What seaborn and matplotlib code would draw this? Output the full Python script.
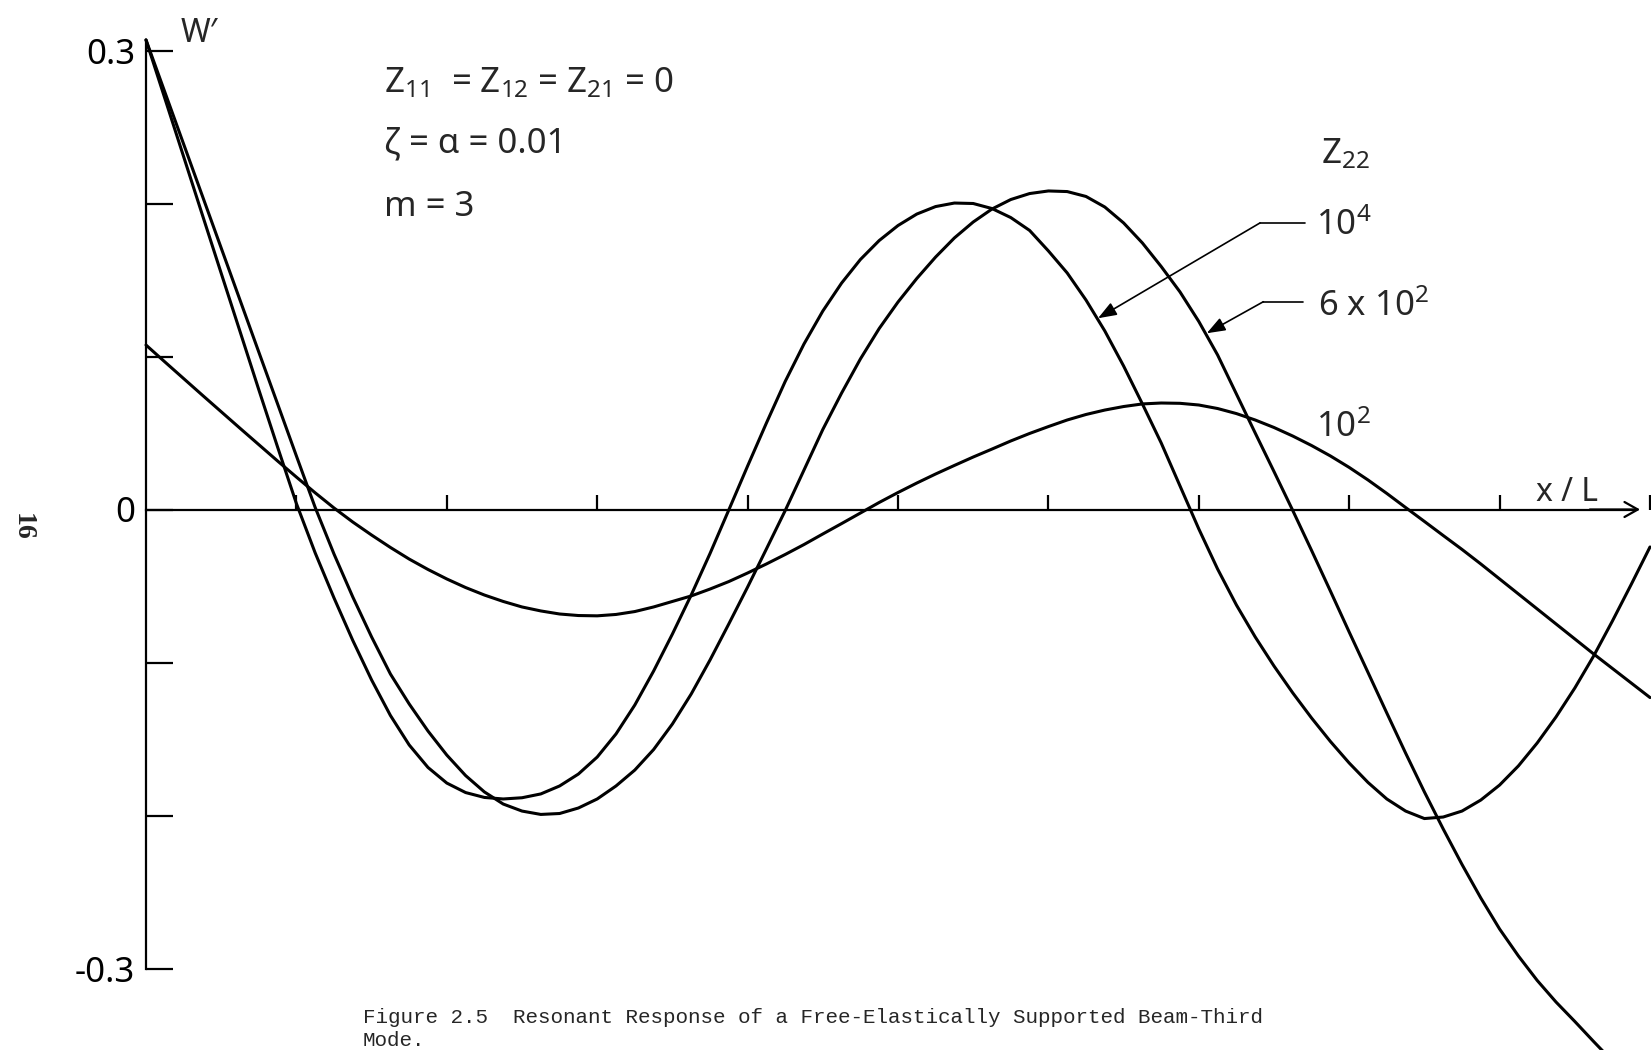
import matplotlib
matplotlib.use("Agg")
import matplotlib.pyplot as plt
import pandas as pd
import seaborn as sns

# Nondimensional position along the beam
x_over_L = [0.0, 0.0125, 0.025, 0.0375, 0.05, 0.0625, 0.075, 0.0875, 0.1, 0.1125,
            0.125, 0.1375, 0.15, 0.1625, 0.175, 0.1875, 0.2, 0.2125, 0.225, 0.2375,
            0.25, 0.2625, 0.275, 0.2875, 0.3, 0.3125, 0.325, 0.3375, 0.35, 0.3625,
            0.375, 0.3875, 0.4, 0.4125, 0.425, 0.4375, 0.45, 0.4625, 0.475, 0.4875,
            0.5, 0.5125, 0.525, 0.5375, 0.55, 0.5625, 0.575, 0.5875, 0.6, 0.6125,
            0.625, 0.6375, 0.65, 0.6625, 0.675, 0.6875, 0.7, 0.7125, 0.725, 0.7375,
            0.75, 0.7625, 0.775, 0.7875, 0.8, 0.8125, 0.825, 0.8375, 0.85, 0.8625,
            0.875, 0.8875, 0.9, 0.9125, 0.925, 0.9375, 0.95, 0.9625, 0.975, 0.9875,
            1.0]

# Resonant slope response W' for each support stiffness Z22
w_z22_1e4 = [0.3069, 0.2688, 0.2307, 0.1925, 0.1544, 0.1164, 0.0783, 0.0408, 0.0039,
             -0.0284, -0.0578, -0.0856, -0.1114, -0.1346, -0.1539, -0.1686, -0.1788,
             -0.1850, -0.1882, -0.1892, -0.1884, -0.1859, -0.1807, -0.1729, -0.1618,
             -0.1467, -0.1278, -0.1056, -0.0814, -0.0559, -0.0288, -0.0003, 0.0284,
             0.0565, 0.0837, 0.1082, 0.1297, 0.1480, 0.1634, 0.1758, 0.1856, 0.1931,
             0.1980, 0.2003, 0.2000, 0.1967, 0.1908, 0.1824, 0.1690, 0.1546, 0.1369,
             0.1167, 0.0938, 0.0690, 0.0435, 0.0154, -0.0127, -0.0389, -0.0624,
             -0.0833, -0.1023, -0.1199, -0.1363, -0.1516, -0.1657, -0.1784, -0.1892,
             -0.1971, -0.2020, -0.2010, -0.1971, -0.1899, -0.1801, -0.1676, -0.1526,
             -0.1356, -0.1167, -0.0958, -0.0729, -0.0490, -0.0245]
w_z22_6e2 = [0.3069, 0.2729, 0.2389, 0.2049, 0.1709, 0.1369, 0.1029, 0.0690, 0.0350,
             0.0013, -0.0291, -0.0572, -0.0833, -0.1075, -0.1271, -0.1448, -0.1605,
             -0.1739, -0.1846, -0.1925, -0.1971, -0.1993, -0.1987, -0.1951, -0.1892,
             -0.1807, -0.1703, -0.1569, -0.1402, -0.1206, -0.0984, -0.0748, -0.0507,
             -0.0258, -0.0007, 0.0258, 0.0523, 0.0761, 0.0984, 0.1183, 0.1356, 0.1510,
             0.1650, 0.1775, 0.1879, 0.1964, 0.2026, 0.2065, 0.2082, 0.2078, 0.2046,
             0.1977, 0.1873, 0.1742, 0.1588, 0.1422, 0.1229, 0.1010, 0.0755, 0.0500,
             0.0248, -0.0007, -0.0268, -0.0533, -0.0801, -0.1065, -0.1330, -0.1592,
             -0.1846, -0.2088, -0.2320, -0.2539, -0.2742, -0.2918, -0.3078, -0.3219,
             -0.3346, -0.3477, -0.3605, -0.3732, -0.3859]
w_z22_1e2 = [0.1075, 0.0965, 0.0856, 0.0747, 0.0639, 0.0531, 0.0424, 0.0317, 0.0212,
             0.0109, 0.0010, -0.0082, -0.0167, -0.0248, -0.0324, -0.0392, -0.0454,
             -0.0510, -0.0559, -0.0601, -0.0637, -0.0663, -0.0683, -0.0693, -0.0695,
             -0.0686, -0.0667, -0.0637, -0.0601, -0.0565, -0.0520, -0.0471, -0.0415,
             -0.0356, -0.0294, -0.0229, -0.0160, -0.0092, -0.0023, 0.0046, 0.0111,
             0.0173, 0.0232, 0.0288, 0.0343, 0.0395, 0.0448, 0.0497, 0.0542, 0.0585,
             0.0621, 0.0650, 0.0673, 0.0690, 0.0696, 0.0694, 0.0683, 0.0660, 0.0627,
             0.0585, 0.0536, 0.0480, 0.0418, 0.0350, 0.0275, 0.0193, 0.0105, 0.0013,
             -0.0078, -0.0170, -0.0261, -0.0356, -0.0454, -0.0552, -0.0650, -0.0748,
             -0.0846, -0.0944, -0.1039, -0.1134, -0.1229]

z22_labels = ["1e4", "6e2", "1e2"]
y_ticks = [-0.3, -0.2, -0.1, 0.0, 0.1, 0.2, 0.3]
y_tick_labels = ["-0.3", "", "", "0", "", "", "0.3"]
x_ticks = [0.1, 0.2, 0.3, 0.4, 0.5, 0.6, 0.7, 0.8, 0.9, 1.0]

sns.set_theme(style="white")
plt.rcParams["font.family"] = ["Noto Sans", "DejaVu Sans"]
plt.rcParams["mathtext.fontset"] = "custom"
plt.rcParams["mathtext.rm"] = "Noto Sans"
plt.rcParams["mathtext.it"] = "Noto Sans:italic"
plt.rcParams["mathtext.default"] = "regular"
plt.rcParams["axes.unicode_minus"] = False

n = len(x_over_L)
df = pd.DataFrame({
    "x": x_over_L * 3,
    "w": w_z22_1e4 + w_z22_6e2 + w_z22_1e2,
    "z22": [z22_labels[0]] * n + [z22_labels[1]] * n + [z22_labels[2]] * n,
})

fig = plt.figure(figsize=(16.51, 10.5), dpi=100)
ax = fig.add_axes([0, 0, 1, 1])
ax.set_facecolor("white")

sns.lineplot(data=df, x="x", y="w", hue="z22", palette=["black"] * 3,
             legend=False, estimator=None, sort=False, lw=2.2, ax=ax)
for line in ax.get_lines():
    line.set_solid_joinstyle("round")
ax.set_xlabel("")
ax.set_ylabel("")

ax.set_xlim(-146 / 1504, 1505 / 1504)
ax.set_ylim(-540.5 / 1530, 509.5 / 1530)

# Axes crossing at the origin
for side in ("top", "right"):
    ax.spines[side].set_visible(False)
ax.spines["left"].set_position(("data", 0))
ax.spines["bottom"].set_position(("data", 0))
ax.spines["left"].set_bounds(-0.3, 0.307)
ax.spines["bottom"].set_bounds(0, 0.99)
for side in ("left", "bottom"):
    ax.spines[side].set_color("black")
    ax.spines[side].set_linewidth(1.6)

ax.set_xticks(x_ticks)
ax.tick_params(axis="x", bottom=True, direction="in", length=10.8, width=1.6,
               color="black", labelbottom=False)
ax.set_yticks(y_ticks)
ax.set_yticklabels(y_tick_labels)
ax.tick_params(axis="y", left=True, direction="in", length=19.5, width=1.6,
               color="black", pad=8, labelsize=25, labelcolor="black")

# Arrowhead on the x axis
ax.annotate("", xy=(0.9934, 0), xytext=(0.96, 0),
            arrowprops=dict(arrowstyle="->,head_length=0.8,head_width=0.45",
                            lw=1.6, color="black", mutation_scale=12,
                            shrinkA=0, shrinkB=0))
ax.text(0.9448, 0.0114, "x / L", fontsize=23, ha="center", va="center")
ax.text(0.0233, 0.3114, "W′", fontsize=23, ha="left", va="center")

# Parameter block
ax.text(0.1582, 0.2724, r"Z$_{11}$  = Z$_{12}$ = Z$_{21}$ = 0", fontsize=25,
        ha="left", va="baseline")
ax.text(0.1582, 0.2332, "ζ = α = 0.01", fontsize=25, ha="left", va="baseline")
ax.text(0.1582, 0.1918, "m = 3", fontsize=25, ha="left", va="baseline")

# Z22 curve labels
ax.text(0.7812, 0.2265, r"Z$_{22}$", fontsize=25, ha="left", va="baseline")
ax.text(0.7779, 0.1794, r"10$^{4}$", fontsize=25, ha="left", va="baseline")
ax.text(0.7793, 0.1265, r"6 x 10$^{2}$", fontsize=25, ha="left", va="baseline")
ax.text(0.7779, 0.0474, r"10$^{2}$", fontsize=25, ha="left", va="baseline")

leader_style = dict(arrowstyle="-|>,head_length=0.8,head_width=0.3",
                    lw=1.2, color="black", mutation_scale=14,
                    shrinkA=0, shrinkB=0)
ax.plot([0.7407, 0.7706], [0.1873, 0.1873], color="black", lw=1.2)
ax.annotate("", xy=(0.633, 0.125), xytext=(0.7407, 0.1873),
            arrowprops=leader_style)
ax.plot([0.7429, 0.7695], [0.1358, 0.1358], color="black", lw=1.2)
ax.annotate("", xy=(0.7053, 0.1152), xytext=(0.7429, 0.1358),
            arrowprops=leader_style)

# Caption and page number
fig.text(0.2199, 0.0257,
         "Figure 2.5  Resonant Response of a Free-Elastically Supported Beam-Third",
         family="Liberation Mono", fontsize=15, ha="left", va="baseline")
fig.text(0.2199, 0.0038, "Mode.", family="Liberation Mono", fontsize=15,
         ha="left", va="baseline")
fig.text(0.0133, 0.498, "16", family="Liberation Serif", fontweight="bold",
         fontsize=20, rotation=-90, ha="center", va="center")

fig.savefig("out.png", dpi=100, facecolor="white")
